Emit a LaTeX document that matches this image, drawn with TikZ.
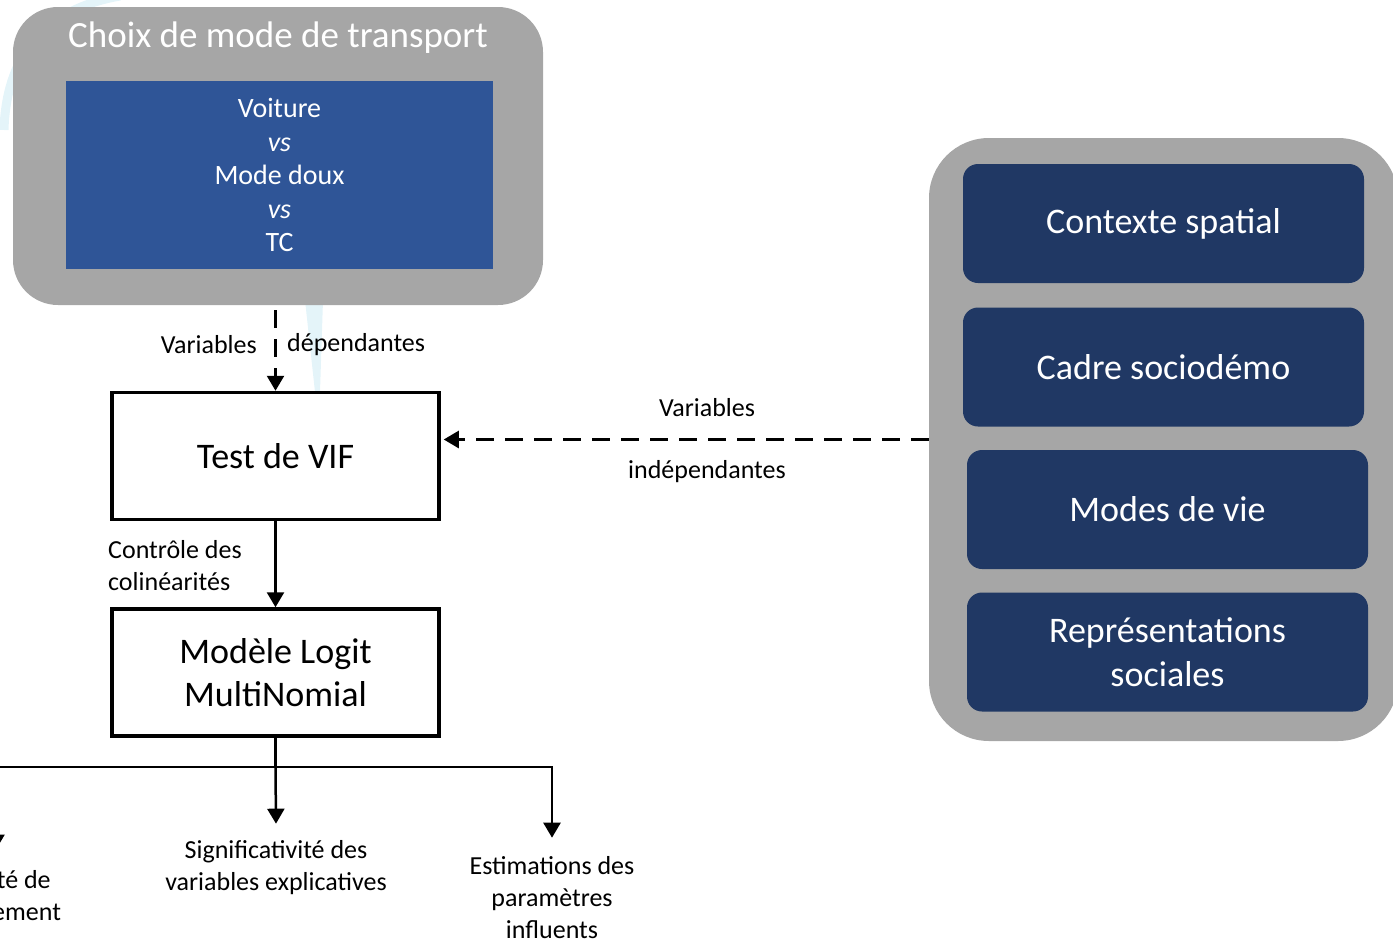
\documentclass[tikz,border=0pt]{standalone}
\usepackage{fontspec}
\setmainfont{Carlito}
\usepackage{xcolor}
\usetikzlibrary{arrows.meta,positioning}

\definecolor{groupgray}{HTML}{A6A6A6}
\definecolor{modeblue}{HTML}{2F5597}
\definecolor{factnavy}{HTML}{203864}
\definecolor{marklight}{HTML}{E4F4F9}

\tikzset{
    groupbox/.style={fill=groupgray, inner sep=0pt},
    factbox/.style={fill=factnavy, rounded corners=15pt, inner sep=0pt,
        minimum width=401pt, minimum height=119pt, text=white, align=center,
        font=\fontsize{36}{44}\selectfont},
    stepbox/.style={draw, line width=3.5pt, fill=white, inner sep=0pt,
        minimum width=327pt, minimum height=127pt, align=center,
        font=\fontsize{36}{43}\selectfont},
    lbl/.style={inner sep=0pt, align=center, font=\fontsize{26}{32}\selectfont},
    flow/.style={line width=2.5pt},
    flowarrow/.style={line width=2.5pt, -{Triangle[width=17pt,length=15pt]}},
    dasharrow/.style={flowarrow, dash pattern=on 18pt off 11pt}
}

\begin{document}
\begin{tikzpicture}[x=1pt,y=-1pt]
    \useasboundingbox (0,0) rectangle (1393,943);
    \clip (0,0) rectangle (1393,943);

    % faint marks in the background
    \fill[marklight] (305,300) -- (323,300) -- (320,392) -- (315,392) -- cycle;
    \draw[marklight, line width=9pt] (4,130) .. controls (6,60) and (40,10) .. (120,-4);

    % mode choice
    \node[groupbox, rounded corners=45pt, minimum width=530pt, minimum height=298pt]
        (choix) at (278,156) {};
    \node[text=white, inner sep=0pt, font=\fontsize{37}{44}\selectfont]
        (titre) at (278,38) {Choix de mode de transport};
    \node[fill=modeblue, inner sep=0pt, minimum width=427pt, minimum height=188pt,
        text=white, align=center, font=\fontsize{28}{33.5}\selectfont]
        (modes) at (279.5,175) {Voiture\\\textit{vs}\\Mode doux\\\textit{vs}\\TC};

    % explanatory factors
    \node[groupbox, rounded corners=60pt, minimum width=469pt, minimum height=603pt]
        (facteurs) at (1163.5,439.5) {};
    \node[factbox] (spatial) at (1163.5,223.5) {Contexte spatial};
    \node[factbox] (sociodemo) at (1163.5,367) {Cadre sociodémo};
    \node[factbox] (vie) at (1167.5,509.5) {Modes de vie};
    \node[factbox] (represent) at (1167.5,652) {Représentations\\sociales};

    % model steps
    \node[stepbox] (vif) at (275.5,456) {Test de VIF};
    \node[stepbox] (logit) at (275.5,672.5) {Modèle Logit\\MultiNomial};

    % outputs
    \node[lbl] (qualite) at (-4,898) {Qualité de\\l'ajustement};
    \node[lbl] (signif) at (276,868) {Significativité des\\variables explicatives};
    \node[lbl] (estim) at (552,898) {Estimations des\\paramètres\\influents};

    % labels
    \node[lbl, anchor=east] (vdep) at (257,345) {Variables};
    \node[lbl, anchor=west] (vdep2) at (287,345) {dépendantes};
    \node[lbl] (vind) at (707,408) {Variables};
    \node[lbl] (vind2) at (707,472) {indépendantes};
    \node[lbl, anchor=west, align=left] (colin) at (108,566) {Contrôle des\\colinéarités};

    % connectors
    \draw[dasharrow] ([yshift=-5pt]vif.north |- choix.south) -- (vif.north);
    \draw[dasharrow] (facteurs.west) -- ([xshift=3pt]vif.east |- facteurs.west);
    \draw[flowarrow] (vif.south) -- (logit.north);

    \coordinate (split) at ([yshift=-29pt]logit.south);
    \draw[flow] (logit.south) -- (split);
    \draw[flowarrow] (split) -- ([yshift=17pt]signif.north);
    \draw[flowarrow] (split) -| ([yshift=19pt]estim.north);
    \draw[flowarrow] (split) -| ([yshift=21pt]qualite.north);
\end{tikzpicture}
\end{document}
